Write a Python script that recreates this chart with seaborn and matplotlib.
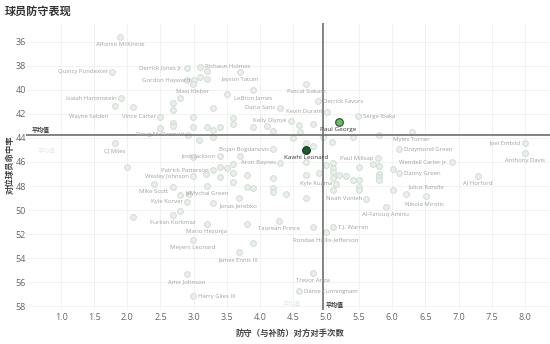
import matplotlib
matplotlib.use("Agg")
import matplotlib.pyplot as plt
import seaborn as sns
import pandas as pd

# ---------------- data ----------------
players = ["Alfonso McKinnie", "Quincy Pondexter", "Derrick Jones Jr.", "Richaun Holmes",
           "Gordon Hayward", "Jayson Tatum", "Maxi Kleber", "Isaiah Hartenstein",
           "LeBron James", "Pascal Siakam", "Derrick Favors", "Dario Saric",
           "Kevin Durant", "Serge Ibaka", "Wayne Selden", "Vince Carter",
           "Kelly Olynyk", "Paul George", "Doug McDermott", "CJ Miles",
           "Myles Turner", "Joel Embiid", "Draymond Green", "Bojan Bogdanovic",
           "Kawhi Leonard", "Anthony Davis", "Josh Jackson", "Paul Millsap",
           "Aron Baynes", "Wendell Carter Jr.", "Patrick Patterson", "Danny Green",
           "Wesley Johnson", "Al Horford", "Mike Scott", "Kyle Kuzma",
           "JaMychal Green", "Julius Randle", "Kyle Korver", "Noah Vonleh",
           "Jonas Jerebko", "Nikola Mirotic", "Al-Farouq Aminu", "Furkan Korkmaz",
           "Mario Hezonja", "Taurean Prince", "T.J. Warren", "Rondae Hollis-Jefferson",
           "Meyers Leonard", "James Ennis III", "Amir Johnson", "Trevor Ariza",
           "Dante Cunningham", "Harry Giles III"]
def_freq = [1.89, 1.77, 2.90, 3.10, 3.01, 3.70, 2.99, 1.90,
            3.90, 4.70, 4.88, 4.30, 5.01, 5.48, 1.81, 2.49,
            4.47, 5.19, 2.92, 1.81, 6.29, 8.00, 6.10, 4.20,
            4.70, 8.00, 3.40, 5.78, 4.30, 6.90, 3.29, 6.10,
            2.99, 7.29, 2.40, 5.15, 3.20, 6.51, 2.90, 5.60,
            3.68, 6.20, 5.90, 2.69, 3.20, 4.29, 5.10, 5.00,
            2.99, 3.68, 2.90, 4.80, 4.59, 2.99]
fg_pct = [35.58, 38.50, 38.17, 38.08, 39.17, 38.50, 39.50, 40.67,
          40.00, 39.50, 40.92, 41.50, 41.83, 42.17, 41.33, 42.25,
          42.58, 42.67, 43.75, 44.42, 43.50, 44.42, 44.92, 44.92,
          45.00, 45.25, 45.50, 45.67, 46.08, 46.00, 46.67, 46.92,
          47.17, 47.17, 47.83, 47.83, 48.00, 48.83, 49.33, 49.08,
          49.00, 48.67, 49.75, 50.42, 51.17, 50.92, 51.42, 51.83,
          52.50, 53.50, 55.33, 55.25, 56.75, 57.17]

other_x = [2.09, 2.69, 2.69, 2.79, 2.90, 3.20, 3.20, 3.10, 3.50, 3.29,
           2.99, 2.69, 2.69, 2.49, 2.99, 3.20, 3.29, 3.40, 3.59, 3.59,
           3.90, 4.11, 4.20, 4.59, 4.80, 4.60, 3.08, 3.29, 4.50, 4.95,
           5.09, 5.40, 5.80, 4.70, 4.80, 3.70, 2.99, 3.40, 3.50, 3.59,
           3.19, 3.40, 3.59, 3.81, 4.20, 3.59, 2.69, 2.93, 2.79, 2.79,
           2.09, 2.00, 3.81, 3.90, 4.20, 4.20, 4.39, 4.70, 4.70, 4.70,
           5.00, 5.10, 5.10, 5.10, 5.10, 5.19, 5.30, 5.40, 5.49, 5.49,
           5.49, 5.49, 5.71, 5.80, 5.80, 5.80, 5.80, 6.01, 6.01, 5.10,
           3.81, 4.80, 3.90, 3.29, 4.89]
other_y = [41.42, 41.08, 41.67, 40.67, 39.17, 38.42, 39.08, 38.92, 40.33, 41.50,
           42.25, 42.75, 43.00, 43.17, 43.08, 43.08, 43.33, 43.08, 42.33, 42.83,
           43.08, 43.00, 43.42, 42.92, 42.83, 43.50, 44.17, 43.92, 44.00, 43.92,
           44.33, 43.92, 43.75, 44.42, 44.67, 45.50, 45.58, 46.42, 46.50, 46.17,
           47.00, 47.25, 46.92, 47.08, 47.33, 47.67, 48.08, 48.67, 48.75, 50.08,
           50.58, 46.42, 48.08, 48.17, 48.17, 48.50, 48.67, 49.00, 46.00, 47.08,
           46.25, 46.08, 46.50, 46.83, 47.33, 47.08, 47.17, 47.50, 47.50, 46.42,
           48.08, 48.33, 46.17, 46.33, 47.00, 47.25, 47.50, 46.58, 48.33, 48.33,
           51.17, 51.42, 52.75, 49.42, 46.92]

avg_def_freq = 4.95
avg_fg_pct = 43.75
highlight = ["Paul George", "Kawhi Leonard"]
x_ticks = [1.0, 1.5, 2.0, 2.5, 3.0, 3.5, 4.0, 4.5, 5.0, 5.5, 6.0, 6.5, 7.0, 7.5, 8.0]
y_ticks = [36, 38, 40, 42, 44, 46, 48, 50, 52, 54, 56, 58]
title = "球员防守表现"
x_label = "防守（与补防）对方对手次数"
y_label = "对位球员命中率"
avg_text = "平均值"

# label placement (style): offset in pixels and alignment
B, L, R, A = (0, -7.5, "center"), (-4, 0, "right"), (5, 0, "left"), (0, 9, "center")
label_pos = {
    "Alfonso McKinnie": B, "Quincy Pondexter": L, "Derrick Jones Jr.": L, "Richaun Holmes": R,
    "Gordon Hayward": L, "Jayson Tatum": B, "Maxi Kleber": B, "Isaiah Hartenstein": L,
    "LeBron James": B, "Pascal Siakam": B, "Derrick Favors": R, "Dario Saric": L,
    "Kevin Durant": L, "Serge Ibaka": R, "Wayne Selden": (-7, -11, "right"), "Vince Carter": L,
    "Kelly Olynyk": L, "Paul George": B, "Doug McDermott": L, "CJ Miles": B,
    "Myles Turner": B, "Joel Embiid": L, "Draymond Green": R, "Bojan Bogdanovic": L,
    "Kawhi Leonard": B, "Anthony Davis": B, "Josh Jackson": L, "Paul Millsap": L,
    "Aron Baynes": L, "Wendell Carter Jr.": L, "Patrick Patterson": L, "Danny Green": R,
    "Wesley Johnson": L, "Al Horford": B, "Mike Scott": B, "Kyle Kuzma": L,
    "JaMychal Green": B, "Julius Randle": A, "Kyle Korver": L, "Noah Vonleh": L,
    "Jonas Jerebko": B, "Nikola Mirotic": (19, -10, "center"), "Al-Farouq Aminu": B,
    "Furkan Korkmaz": B, "Mario Hezonja": B, "Taurean Prince": B, "T.J. Warren": R,
    "Rondae Hollis-Jefferson": B, "Meyers Leonard": B, "James Ennis III": B,
    "Amir Johnson": B, "Trevor Ariza": B, "Dante Cunningham": R, "Harry Giles III": R,
}

# ---------------- plot ----------------
sns.set_theme(style="white")
plt.rcParams["font.family"] = ["Open Sans", "Noto Sans CJK SC", "DejaVu Sans"]

fig = plt.figure(figsize=(5.5, 3.44), dpi=100)
ax = fig.add_axes([26 / 550, 34 / 344, 524 / 550, 287 / 344])

df = pd.DataFrame({"player": players, "x": def_freq, "y": fg_pct})
others = pd.DataFrame({"x": other_x, "y": other_y})
norm = df[~df["player"].isin(highlight)]

dot_face, dot_edge = "#e9f0ea", "#cfdcd1"
sns.scatterplot(data=others, x="x", y="y", ax=ax, s=17, color=dot_face,
                edgecolor=dot_edge, linewidth=0.7, zorder=3)
sns.scatterplot(data=norm, x="x", y="y", ax=ax, s=17, color=dot_face,
                edgecolor=dot_edge, linewidth=0.7, zorder=3)
pg = df[df["player"] == "Paul George"]
kl = df[df["player"] == "Kawhi Leonard"]
sns.scatterplot(data=pg, x="x", y="y", ax=ax, s=30, color="#72b46a",
                edgecolor="#2c5f2e", linewidth=0.9, zorder=5)
sns.scatterplot(data=kl, x="x", y="y", ax=ax, s=30, color="#1d5a2b",
                edgecolor="#123d1b", linewidth=0.9, zorder=5)

for name, xv, yv in zip(players, def_freq, fg_pct):
    dx, dy, ha = label_pos[name]
    hl = name in highlight
    ax.annotate(name, (xv, yv), xytext=(dx, dy), textcoords="offset pixels",
                ha=ha, va="center", fontsize=4.6 if hl else 4.3,
                color="#3a3a3a" if hl else "#a0a0a0", zorder=6)

# average lines
ax.axhline(avg_fg_pct, color="#6e6e6e", lw=1.2, zorder=4)
ax.axvline(avg_def_freq, color="#6e6e6e", lw=1.2, zorder=4)
ax.text(0.55, avg_fg_pct - 0.2, avg_text, fontsize=4.3, fontweight="bold",
        color="#333333", ha="left", va="bottom", zorder=6)
ax.text(0.65, avg_fg_pct + 1.4, avg_text, fontsize=4.3, color="#e6e6e6",
        ha="left", va="center", zorder=2)
ax.text(avg_def_freq + 0.05, 57.9, avg_text, fontsize=4.3, fontweight="bold",
        color="#333333", ha="left", va="center", zorder=6)
ax.text(4.35, 57.9, avg_text, fontsize=4.3, color="#e6e6e6",
        ha="left", va="center", zorder=2)

ax.set_xlim(0.47, 8.38)
ax.set_ylim(58.33, 34.42)
ax.set_xticks(x_ticks)
ax.set_xticklabels([f"{t:.1f}" for t in x_ticks])
ax.set_yticks(y_ticks)
ax.set_yticklabels([str(t) for t in y_ticks])
ax.tick_params(axis="both", length=0, labelsize=6.5, colors="#666666", pad=2)
ax.tick_params(axis="y", pad=0)
ax.grid(True, color="#f0f0f0", lw=0.6, zorder=0)
for s in ax.spines.values():
    s.set_visible(False)
ax.set_xlabel("")
ax.set_ylabel("")

fig.text(5 / 550, 1 - 12 / 344, title, fontsize=8, fontweight="bold",
         color="#333333", ha="left", va="center")
fig.text(290 / 550, 1 - 333 / 344, x_label, fontsize=6, color="#444444",
         ha="center", va="center", fontweight="bold")
fig.text(10 / 550, 1 - 165 / 344, y_label, fontsize=6, color="#444444",
         ha="center", va="center", rotation=90, fontweight="bold")

fig.savefig("out.png", dpi=100)
